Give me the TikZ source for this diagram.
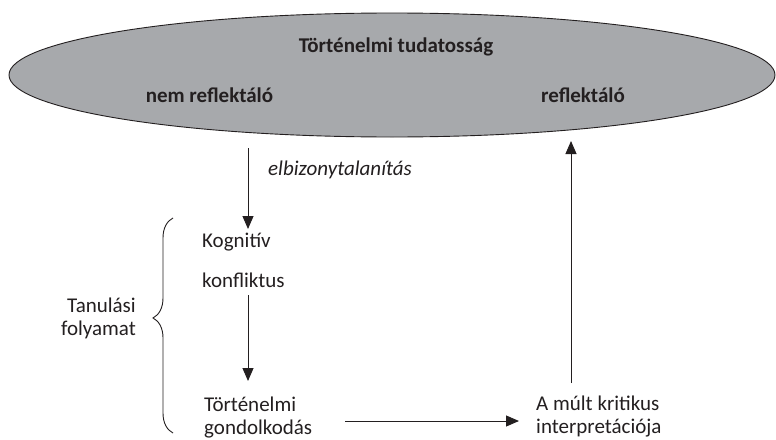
\documentclass[tikz,border=0pt]{standalone}
\usepackage{fontspec}
\setmainfont{Carlito}
\usetikzlibrary{shapes.geometric,arrows.meta,decorations.pathreplacing}
\definecolor{ink}{HTML}{231F20}
\definecolor{ellgray}{HTML}{A7A9AC}
\begin{document}
\begin{tikzpicture}[x=1pt,y=-1pt,
  txt/.style={font=\fontsize{21}{23}\selectfont, inner sep=0pt, text=ink},
  boldtxt/.style={txt, font=\fontsize{21}{23}\selectfont\bfseries},
  ittxt/.style={txt, font=\fontsize{21}{23}\selectfont\itshape},
  arr/.style={line width=1pt, draw=ink, -{Triangle[length=13pt,width=11pt]}},
  bigell/.style={ellipse, draw=ink, line width=0.9pt, fill=ellgray, minimum width=766pt, minimum height=124pt, inner sep=0pt},
  bracestyle/.style={draw=ink, line width=0.9pt, decorate, decoration={brace, amplitude=20pt, aspect=0.535}}
]
\useasboundingbox (0,0) rectangle (776,439);
\node[bigell] (ell) at (392,75) {};
\node[boldtxt, anchor=base] (title) at (396,52) {Történelmi tudatosság};
\node[boldtxt, anchor=base] (nem) at (209.5,102) {nem reflektáló};
\node[boldtxt, anchor=base] (refl) at (583,102) {reflektáló};
\node[ittxt, anchor=base west] (elb) at (268,175) {elbizonytalanítás};
\node[txt, anchor=base west] (kog1) at (202,247) {Kognitív};
\node[txt, anchor=base west] (kog2) at (202,287) {konfliktus};
\node[txt, anchor=base west, align=left] (tort) at (204,434) {Történelmi\\gondolkodás};
\node[txt, anchor=base west, align=left] (mult) at (536,433) {A múlt kritikus\\interpretációja};
\node[txt, anchor=base east, align=right] (tan) at (136,335) {Tanulási\\folyamat};
\coordinate (a1s) at (248,148);
\coordinate (a1e) at (248,229);
\coordinate (a2s) at (248,295);
\coordinate (a2e) at (248,381);
\coordinate (a3s) at (345,421);
\coordinate (a3e) at (519,421);
\coordinate (a4s) at (571,383);
\coordinate (a4e) at (571,141);
\coordinate (bb) at (173,433);
\coordinate (bt) at (173,218);
\draw[arr] (a1s) -- (a1e);
\draw[arr] (a2s) -- (a2e);
\draw[arr] (a3s) -- (a3e);
\draw[arr] (a4s) -- (a4e);
\draw[bracestyle] (bb) -- (bt);
\end{tikzpicture}
\end{document}
